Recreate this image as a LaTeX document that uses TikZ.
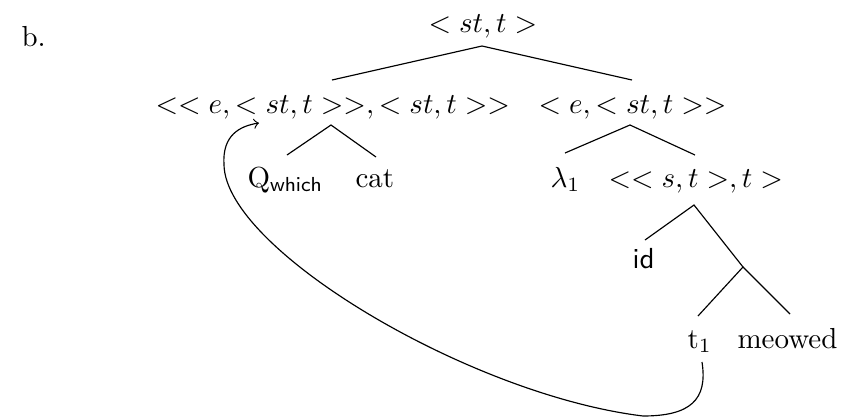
\documentclass[tikz,border=0pt]{standalone}
\begin{document}
\begin{tikzpicture}[x=0.345pt,y=-0.345pt,
  lbl/.style={inner sep=0pt, anchor=base west},
  br/.style={line width=0.4pt}]
\useasboundingbox (0,0) rectangle (845,417);
% labels
\node[lbl] (b) at (21,46) {b.};
\node[lbl] (root) at (428,32) {$<st,t>$};
\node[lbl] (lc) at (155,113) {$<<e,<st,t>>,<st,t>>$};
\node[lbl] (rc) at (538,113) {$<e,<st,t>>$};
\node[lbl] (q) at (247,187) {Q$_{\mathsf{which}}$};
\node[lbl] (cat) at (355,187) {cat};
\node[lbl] (lam) at (550,187) {$\lambda_1$};
\node[lbl] (st) at (608,187) {$<<s,t>,t>$};
\node[lbl] (id) at (632,268) {\textsf{id}};
\node[lbl] (t1) at (687,348) {t$_1$};
\node[lbl] (meow) at (737,348) {meowed};
% branch points
\coordinate (a0) at (482,46);
\coordinate (a0l) at (332,80);
\coordinate (a0r) at (632,80);
\coordinate (a1) at (331,125);
\coordinate (a1l) at (287,155);
\coordinate (a1r) at (376,157);
\coordinate (a2) at (630,125);
\coordinate (a2l) at (565,153);
\coordinate (a2r) at (695,155);
\coordinate (a3) at (694,205);
\coordinate (a3l) at (645,240);
\coordinate (j) at (743,267);
\coordinate (jl) at (698,316);
\coordinate (jr) at (790,314);
\draw[br] (a0l) -- (a0) -- (a0r);
\draw[br] (a1l) -- (a1) -- (a1r);
\draw[br] (a2l) -- (a2) -- (a2r);
\draw[br] (a3l) -- (a3) -- (j);
\draw[br] (jl) -- (j) -- (jr);
% movement arrow
\coordinate (s) at (702,362);
\coordinate (m1) at (643,416);
\coordinate (m2) at (224,165);
\coordinate (e) at (259,123);
\draw[br,->] (s) .. controls (708,400) and (690,416) .. (m1)
  .. controls (470,395) and (226,250) .. (m2)
  .. controls (222,135) and (240,126) .. (e);
\end{tikzpicture}
\end{document}
